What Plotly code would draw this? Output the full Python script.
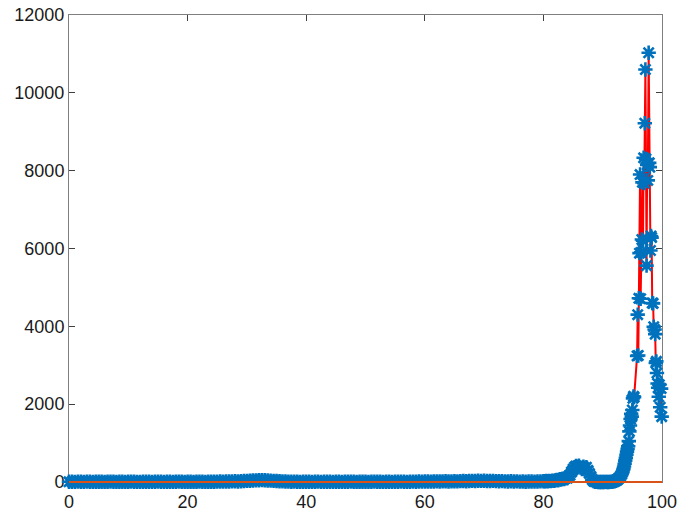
import plotly.graph_objects as go

# ---------------- data ----------------
x_flat = [i * 0.5 for i in range(161)]  # 0 .. 80
y_flat = [
    5, 8, 3, 10, 6, 4, 9, 7, 2, 6,
    8, 5, 3, 7, 10, 6, 4, 8, 5, 3,
    6, 9, 7, 4, 2, 5, 8, 6, 3, 7,
    9, 5, 4, 6, 8, 3, 7, 10, 6, 4,
    5, 8, 3, 6, 9, 7, 4, 5, 8, 6,
    10, 12, 9, 14, 11, 15, 18, 13, 20, 24,
    28, 33, 38, 42, 45, 48, 44, 40, 36, 30,
    25, 20, 16, 12, 9, 7, 10, 6, 4, 8,
    5, 7, 3, 6, 9, 4, 8, 5, 7, 3,
    6, 8, 4, 7, 5, 9, 6, 3, 8, 5,
    7, 4, 6, 9, 5, 8, 3, 6, 7, 4,
    8, 5, 9, 6, 4, 7, 10, 8, 12, 9,
    11, 14, 10, 13, 16, 12, 15, 18, 14, 17,
    20, 16, 22, 25, 21, 27, 30, 26, 32, 28,
    31, 27, 24, 28, 22, 19, 23, 17, 14, 18,
    12, 15, 10, 13, 8, 11, 14, 9, 12, 16,
    18,
]

x_mid = [80 + 0.25 * (i + 1) for i in range(48)]  # 80.25 .. 92
y_mid = [
    20, 25, 18, 30, 22, 35, 28, 40,
    55, 45, 70, 60, 85, 75, 110, 95,
    140, 180, 260, 330, 380, 410, 395, 420,
    370, 330, 390, 350, 380, 300, 220, 140,
    60, 20, 5, 2, 0, 0, 1, 0,
    0, 2, 0, 1, 3, 5, 10, 15,
]

x_spike = [
    92.2, 92.4, 92.6, 92.8, 93.0, 93.2, 93.35, 93.5, 93.6, 93.7,
    93.8, 93.9, 94.0, 94.1, 94.2, 94.3, 94.4, 94.5, 94.6, 94.7,
    94.8, 94.9, 95.0, 95.1, 95.2, 95.3, 95.8, 95.9, 96.0, 96.1,
    96.2, 96.3, 96.4, 96.5, 96.6, 96.7, 96.8, 96.9, 97.0, 97.1,
    97.2, 97.3, 97.4, 97.5, 97.6, 97.75, 97.85, 97.95, 98.05, 98.15,
    98.25, 98.35, 98.5, 98.6, 98.75, 98.85, 98.95, 99.05, 99.15, 99.25,
    99.35, 99.45, 99.55, 99.7, 99.85, 99.95,
]
y_spike = [
    30, 50, 80, 110, 150, 200, 260, 330, 400, 470,
    550, 620, 700, 780, 850, 920, 1050, 1300, 1450, 1620,
    1750, 1680, 1850, 2150, 2200, 2180, 3240, 4300, 3250, 4720,
    5880, 7900, 4710, 5900, 6230, 7700, 6200, 8330, 7680, 9220,
    10600, 8300, 5560, 8150, 7750, 11030, 8200, 8090, 5950, 6320,
    6280, 4600, 4590, 3990, 3920, 3800, 3060, 3100, 2800, 2530,
    2420, 2190, 2500, 1920, 2400, 1680,
]

# second series: the zero baseline from x=0 to x=100
zero_x = [0, 100]
zero_y = [0, 0]

x_ticks = [0, 20, 40, 60, 80, 100]
y_ticks = [0, 2000, 4000, 6000, 8000, 10000, 12000]
y_tick_text = ["0", "2000", "4000", "6000", "8000", "10000", "12000"]
x_tick_text = ["0", "20", "40", "60", "80", "100"]

Y_MIN, Y_MAX = 0, 12000

# ---------------- figure ----------------
xs = x_flat + x_mid + x_spike
ys = y_flat + y_mid + y_spike

fig = go.Figure()
fig.add_trace(go.Scatter(
    x=xs, y=ys, mode="lines",
    line=dict(color="#FF0000", width=2),
    hoverinfo="skip", showlegend=False,
))
fig.add_trace(go.Scatter(
    x=xs, y=ys, mode="markers",
    marker=dict(symbol="asterisk-open", size=12,
                line=dict(color="#0072BD", width=2.6), color="#0072BD"),
    cliponaxis=False, showlegend=False,
))

# zero line drawn on top; x through the data axis, y as a fraction of the y range
# (so it is not half-clipped at the bottom edge of the plot area)
fig.add_shape(
    type="line", layer="above",
    xref="x", yref="paper",
    x0=zero_x[0], x1=zero_x[1],
    y0=(zero_y[0] - Y_MIN) / (Y_MAX - Y_MIN),
    y1=(zero_y[1] - Y_MIN) / (Y_MAX - Y_MIN),
    line=dict(color="#D95319", width=2),
)

axis_common = dict(
    showgrid=False, zeroline=False, automargin=False, layer="below traces",
    showline=True, linecolor="#7f7f7f", linewidth=1,
    mirror="ticks", ticks="inside", ticklen=6, tickcolor="#404040",
    tickfont=dict(family="Liberation Sans, Arial, sans-serif", size=18, color="#1a1a1a"),
)
fig.update_xaxes(range=[0, 100], tickvals=x_ticks, ticktext=x_tick_text,
                 ticklabelstandoff=3, **axis_common)
fig.update_yaxes(range=[Y_MIN, Y_MAX], tickvals=y_ticks, ticktext=y_tick_text, **axis_common)

fig.update_layout(
    width=678, height=516,
    margin=dict(l=69, r=16, t=15, b=34),
    paper_bgcolor="white", plot_bgcolor="white",
)

# remove the browser's default 8px body margin so the figure fills the window
fig.write_html(
    "out.html",
    config={"displayModeBar": False},
    post_script="document.body.style.margin='0';document.body.style.overflow='hidden';",
)
